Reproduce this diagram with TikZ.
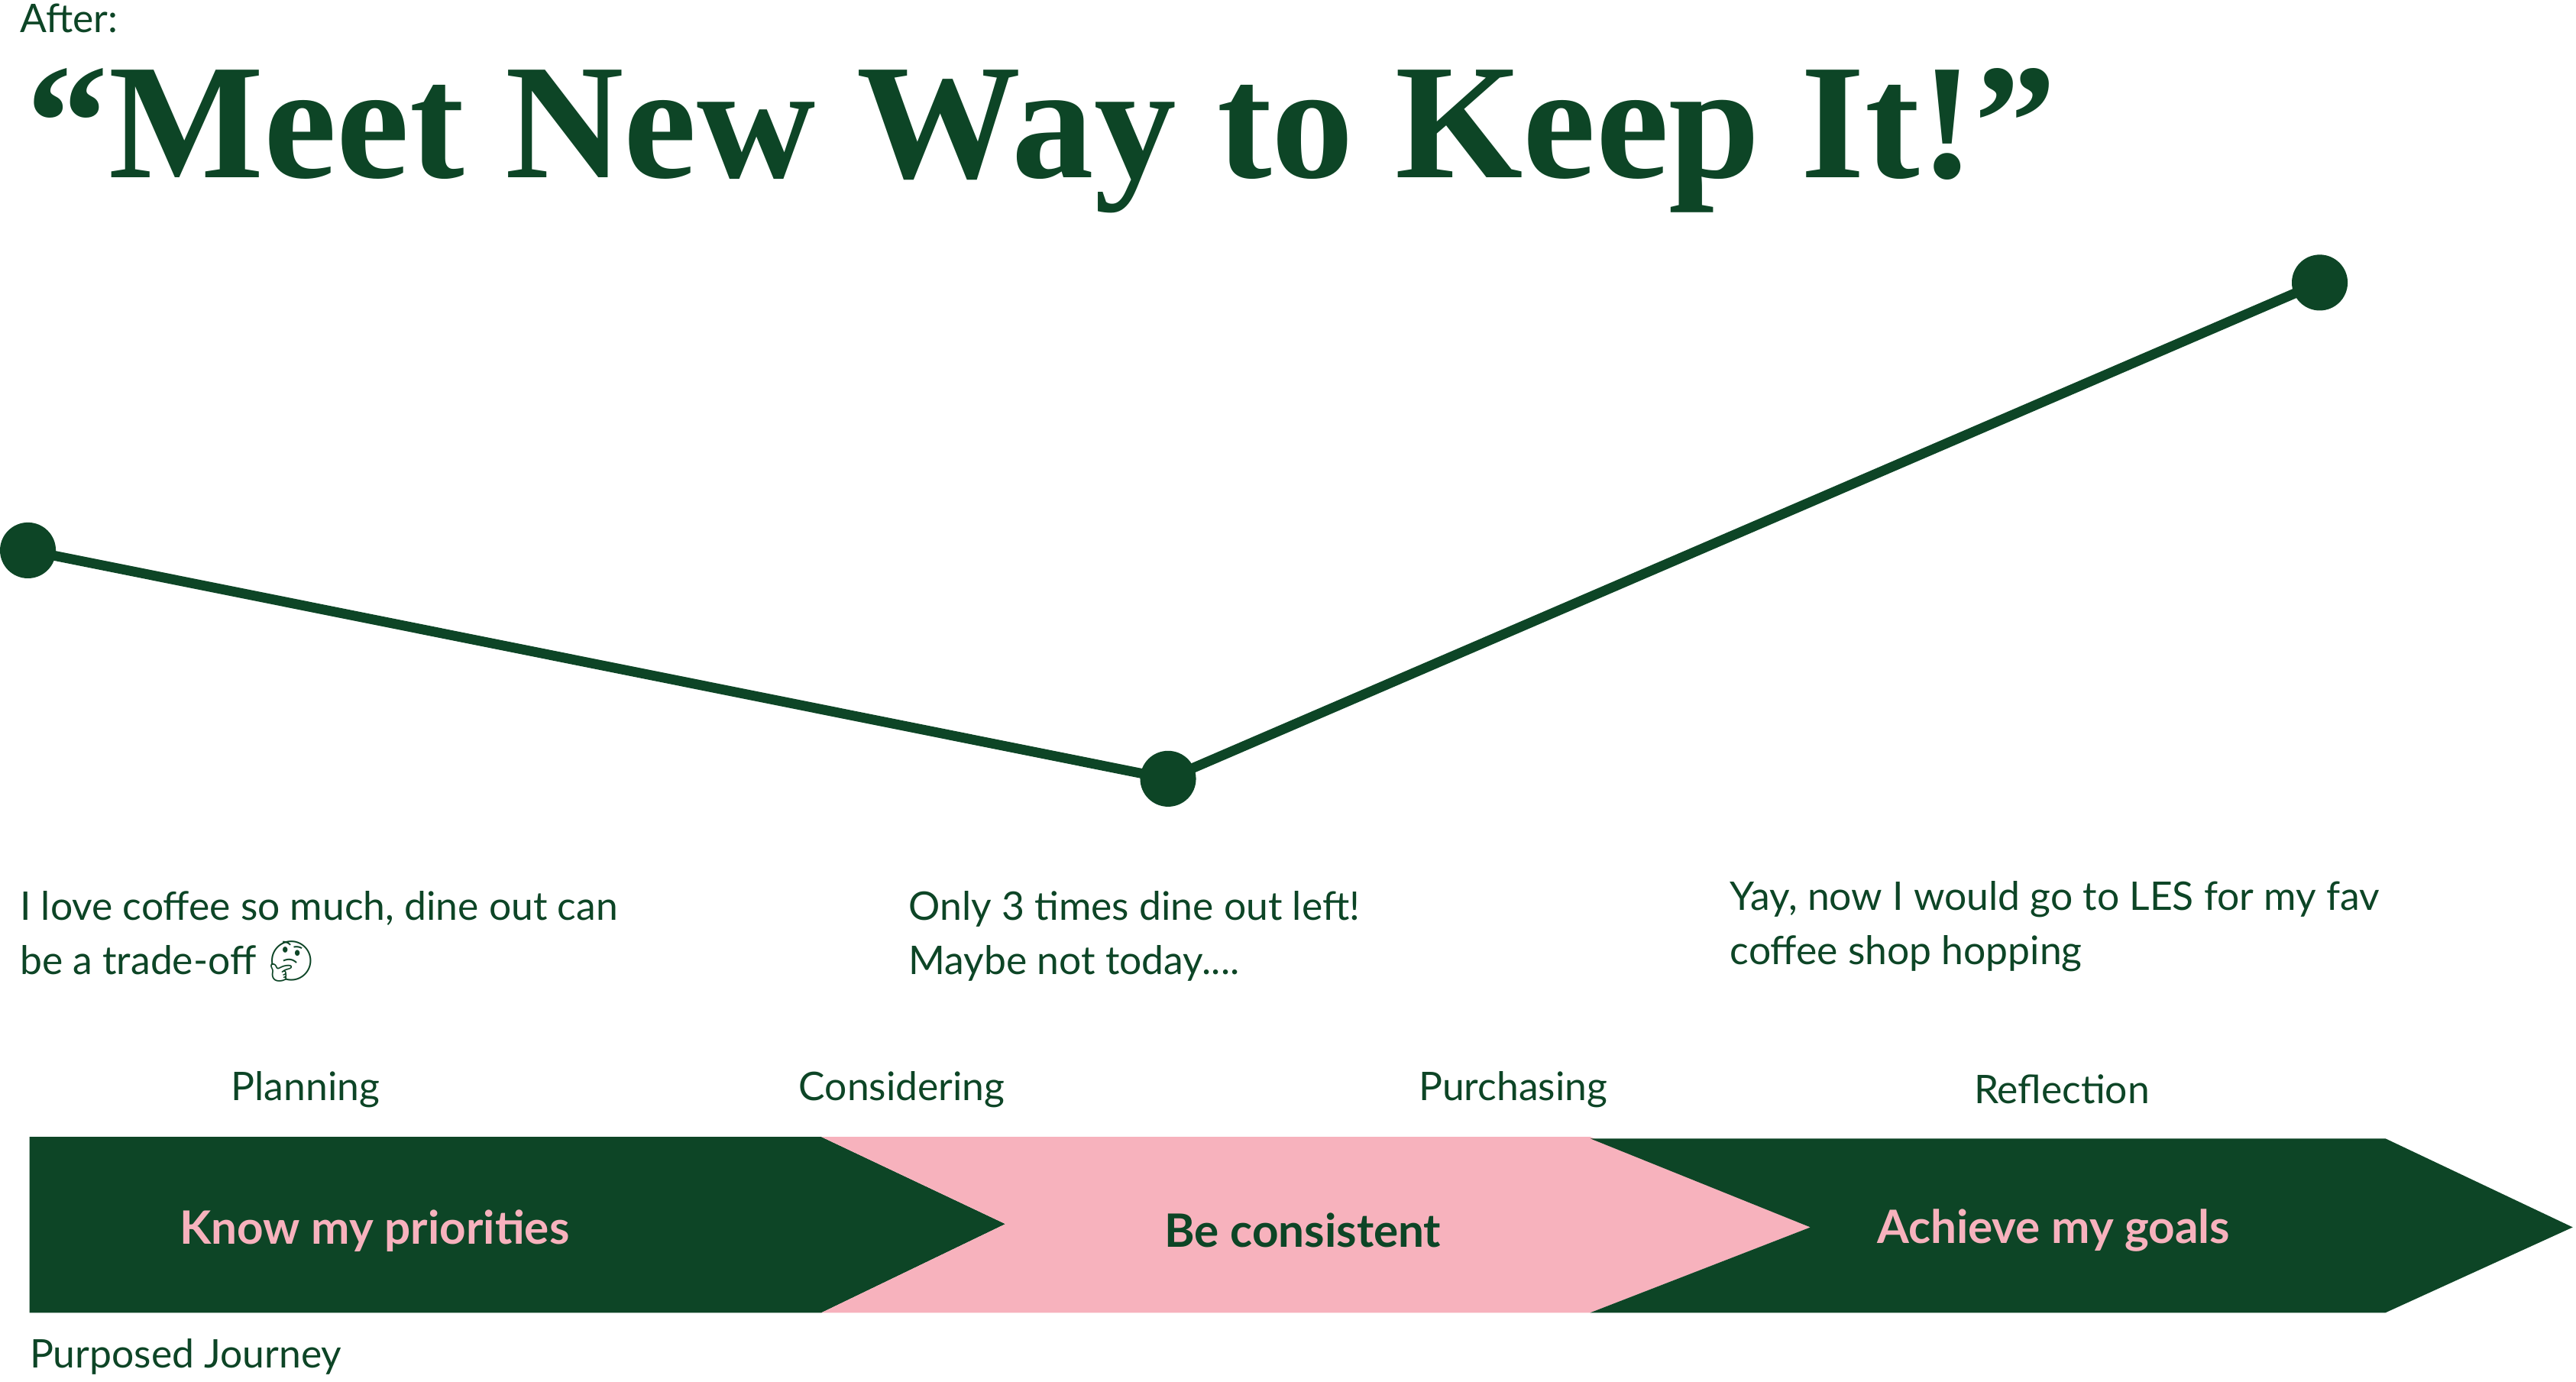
\documentclass[tikz,border=0pt]{standalone}
\usepackage{fontspec}
\setmainfont{Lato}
\newfontfamily\titlefont{Liberation Serif}
\newfontfamily\emojifont{Noto Emoji}
\definecolor{dg}{HTML}{0D4526}
\definecolor{pk}{HTML}{F7B2BD}
\begin{document}
\begin{tikzpicture}[x=1pt,y=-1pt,
  txt/.style={text=dg,font=\fontsize{24}{33}\selectfont,inner sep=0pt},
  quote/.style={txt,anchor=north west,align=left},
  stage/.style={txt,anchor=center},
  boxlbl/.style={inner sep=0pt,font=\fontsize{28}{32}\selectfont\bfseries},
  dot/.style={circle,fill=dg,minimum size=34pt,inner sep=0pt}]
\useasboundingbox (0,0) rectangle (1568,841);
\node[txt,anchor=north west] (after) at (12,2) {After:};
\node[anchor=base west,inner sep=0pt,text=dg,font=\titlefont\bfseries\fontsize{100}{100}\selectfont] (title) at (16,108) {“Meet New Way to Keep It!”};
\node[dot] (p1) at (17,335) {};
\node[dot] (p2) at (711,474) {};
\node[dot] (p3) at (1412,172) {};
\draw[dg,line width=6pt] (p1.center) -- (p2.center) -- (p3.center);
\node[quote] (q1) at (12,542) {I love coffee so much, dine out can\\be a trade-off {\emojifont 🤔}};
\node[quote] (q2) at (553,542) {Only 3 times dine out left!\\Maybe not today....};
\node[quote] (q3) at (1053,536) {Yay, now I would go to LES for my fav\\coffee shop hopping};
\node[stage] (s1) at (186,663) {Planning};
\node[stage] (s2) at (549,663) {Considering};
\node[stage] (s3) at (921,663) {Purchasing};
\node[stage] (s4) at (1255,663) {Reflection};
\fill[dg] (18,692) -- (500,692) -- (612,745) -- (500,799) -- (18,799) -- cycle;
\fill[pk] (500,692) -- (968,692) -- (1102,747) -- (968,799) -- (500,799) -- (612,745) -- cycle;
\fill[dg] (968,693) -- (1452,693) -- (1566,747) -- (1452,799) -- (968,799) -- (1102,747) -- cycle;
\node[boxlbl,text=pk] (b1) at (228,749) {Know my priorities};
\node[boxlbl,text=dg] (b2) at (793,749) {Be consistent};
\node[boxlbl,text=pk] (b3) at (1250,749) {Achieve my goals};
\node[txt,anchor=west] (pj) at (18,826) {Purposed Journey};
\end{tikzpicture}
\end{document}
